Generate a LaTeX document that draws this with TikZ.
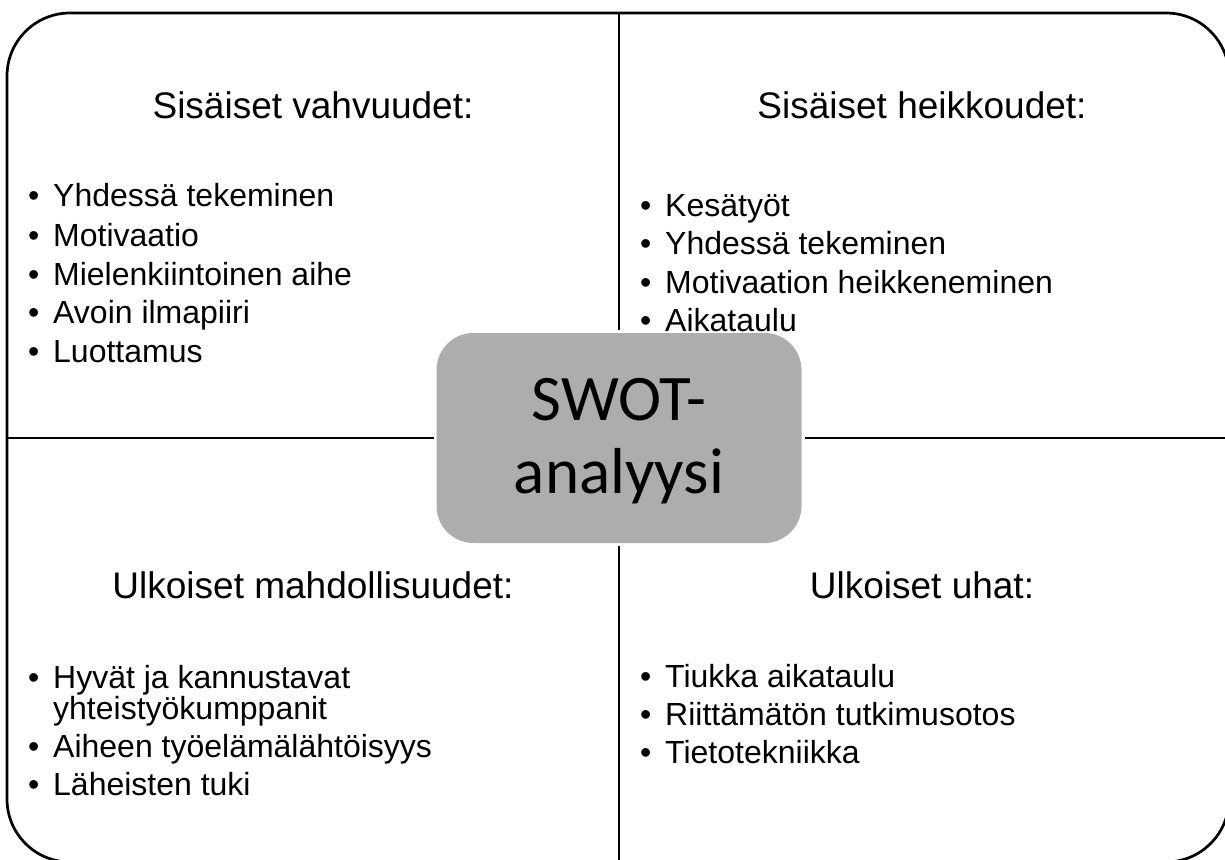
\documentclass[tikz,border=0pt]{standalone}
\usepackage{fontspec}
\setmainfont{Liberation Sans}
\newfontfamily\swotfont{Carlito}
\usepackage{xcolor}
\usepackage{tikz}
\usetikzlibrary{positioning}

\definecolor{boxgray}{HTML}{ADADAD}
\tikzset{
  heading/.style={anchor=base,inner sep=0pt,font=\fontsize{37}{44}\selectfont},
  bitem/.style={anchor=base west,inner sep=0pt,font=\fontsize{32}{37}\selectfont},
  swotbox/.style={rectangle,fill=boxgray,rounded corners=37pt,minimum width=365pt,
    minimum height=210pt,outer sep=3pt,inner sep=0pt},
  swottext/.style={inner sep=0pt,align=center,font=\swotfont\fontsize{65}{73}\selectfont},
  divider/.style={line width=2pt}
}
\newcommand{\bul}{\makebox[25pt][l]{\textbullet}}

\begin{document}
\begin{tikzpicture}[x=1pt,y=-1pt]
    \useasboundingbox (0,0) rectangle (1225,859);
    \clip (0,0) rectangle (1225,859);

    % kehys
    \draw[line width=2.7pt,rounded corners=63pt] (7,13) rectangle (1229,862);

    % keskilaatikko
    \node[swotbox] (swot) at (619,438) {};
    \node[swottext] (swotlbl) at ([yshift=-3pt]swot.center) {SWOT-\\analyysi};

    % jakoviivat
    \coordinate (vtop) at (619,13);
    \coordinate (vbot) at (619,862);
    \coordinate (hleft) at (7,438);
    \coordinate (hright) at (1229,438);
    \draw[divider] (vtop) -- (swot.north);
    \draw[divider] (swot.south) -- (vbot);
    \draw[divider] (hleft) -- (swot.west);
    \draw[divider] (swot.east) -- (hright);

    % vahvuudet
    \node[heading] (sh) at (313,118) {Sisäiset vahvuudet:};
    \node[bitem] (s1) at (28,206) {\bul Yhdessä tekeminen};
    \node[bitem] (s2) at (28,246) {\bul Motivaatio};
    \node[bitem] (s3) at (28,285) {\bul Mielenkiintoinen aihe};
    \node[bitem] (s4) at (28,323) {\bul Avoin ilmapiiri};
    \node[bitem] (s5) at (28,362) {\bul Luottamus};

    % heikkoudet
    \node[heading] (wh) at (922,118) {Sisäiset heikkoudet:};
    \node[bitem] (w1) at (640,216) {\bul Kesätyöt};
    \node[bitem] (w2) at (640,254) {\bul Yhdessä tekeminen};
    \node[bitem] (w3) at (640,293) {\bul Motivaation heikkeneminen};
    \node[bitem] (w4) at (640,331) {\bul Aikataulu};

    % mahdollisuudet
    \node[heading] (oh) at (313,598) {Ulkoiset mahdollisuudet:};
    \node[bitem] (o1) at (28,688) {\bul Hyvät ja kannustavat};
    \node[bitem] (o1b) at (53,719) {yhteistyökumppanit};
    \node[bitem] (o2) at (28,757) {\bul Aiheen työelämälähtöisyys};
    \node[bitem] (o3) at (28,795) {\bul Läheisten tuki};

    % uhat
    \node[heading] (th) at (922,598) {Ulkoiset uhat:};
    \node[bitem] (t1) at (640,687) {\bul Tiukka aikataulu};
    \node[bitem] (t2) at (640,725) {\bul Riittämätön tutkimusotos};
    \node[bitem] (t3) at (640,763) {\bul Tietotekniikka};
\end{tikzpicture}
\end{document}
